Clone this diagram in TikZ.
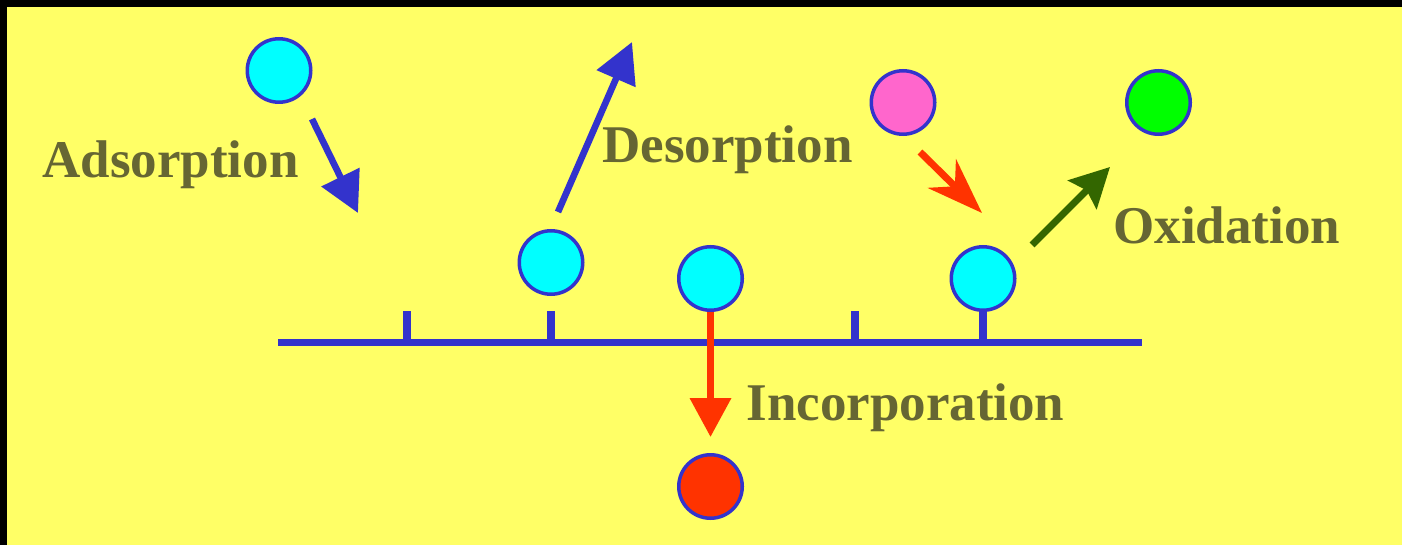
\documentclass[tikz,border=0pt]{standalone}
\usepackage{fontspec}
\setmainfont{Liberation Serif}
\usepackage{tikz}
\usetikzlibrary{arrows.meta,positioning}
\definecolor{SurfBlue}{HTML}{3333CC}
\definecolor{SurfYellow}{HTML}{FFFF66}
\definecolor{SurfOlive}{HTML}{666633}
\definecolor{AtomCyan}{HTML}{00FFFF}
\definecolor{AtomRed}{HTML}{FF3300}
\definecolor{AtomPink}{HTML}{FF66CC}
\definecolor{AtomGreen}{HTML}{00FF00}
\definecolor{OxGreen}{HTML}{336600}
\tikzset{
  atom/.style={circle,draw=SurfBlue,line width=1.75pt,minimum size=31.75pt,inner sep=0pt},
  steplabel/.style={anchor=base west,inner sep=0pt,text=SurfOlive,font=\bfseries\fontsize{26.5}{30}\selectfont},
  surfline/.style={line width=3.7pt,draw=SurfBlue},
  bluearrow/.style={-{Triangle[length=20pt,width=20.5pt]},line width=3.3pt,draw=SurfBlue},
  redarrow/.style={-{Triangle[length=19.5pt,width=20pt]},line width=3.5pt,draw=AtomRed},
  reactarrow/.style={-{Stealth[length=28pt,width=20pt,inset=9pt]},line width=3.5pt,draw=AtomRed},
  oxarrow/.style={-{Stealth[length=19.5pt,width=20pt,inset=3pt]},line width=3.5pt,draw=OxGreen}
}
\begin{document}
\begin{tikzpicture}[x=0.5pt,y=-0.5pt]
% background and frame
\fill[SurfYellow] (0,0) rectangle (1402,545);
\fill[black] (0,0) rectangle (1402,7);
\fill[black] (0,0) rectangle (7,545);
\useasboundingbox (0,0) rectangle (1402,545);
% surface with sites
\draw[surfline] (278,342.5) -- (1142,342.5);
\foreach \x in {407,551,855,983}
  \draw[surfline] (\x,342.5) -- (\x,311);
% atoms
\node[atom,fill=AtomCyan] (gas) at (279,70.5) {};
\node[atom,fill=AtomCyan] (des) at (551,262.5) {};
\node[atom,fill=AtomCyan] (inc) at (710.5,278.5) {};
\node[atom,fill=AtomCyan] (ox) at (983,278.5) {};
\node[atom,fill=AtomPink] (pink) at (903,102.5) {};
\node[atom,fill=AtomGreen] (prod) at (1158.5,102.5) {};
\node[atom,fill=AtomRed] (bulk) at (710.5,486.5) {};
% arrow ends
\coordinate (adsA) at (312,119);
\coordinate (adsB) at (358,213);
\coordinate (desA) at (558,212);
\coordinate (desB) at (632,42);
\coordinate (reaA) at (920,152);
\coordinate (reaB) at (982,213);
\coordinate (oxA) at (1032,245);
\coordinate (oxB) at (1110,167);
% arrows
\draw[bluearrow] (adsA) -- (adsB);
\draw[bluearrow] (desA) -- (desB);
\draw[redarrow,shorten >=8pt] (inc.south) -- (bulk.north);
\draw[reactarrow] (reaA) -- (reaB);
\draw[oxarrow] (oxA) -- (oxB);
% labels
\node[steplabel] (adsorption) at (42,178) {Adsorption};
\node[steplabel] (desorption) at (602,163) {Desorption};
\node[steplabel] (oxidation) at (1113,244) {Oxidation};
\node[steplabel] (incorporation) at (746,420) {Incorporation};
\end{tikzpicture}
\end{document}
